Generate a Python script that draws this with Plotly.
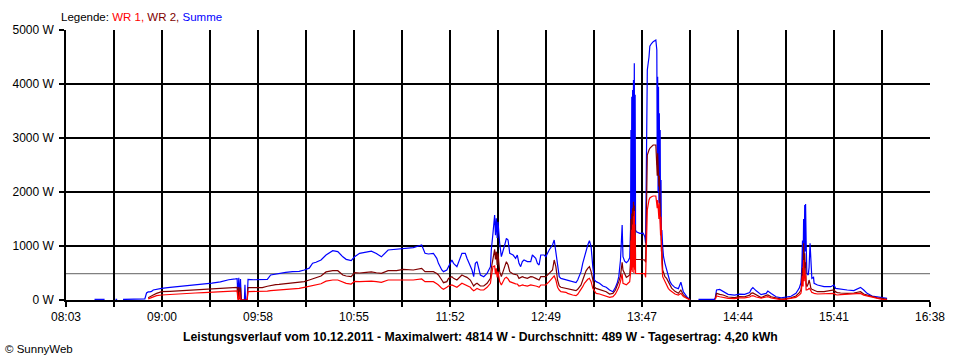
import plotly.graph_objects as go
import pandas as pd

DAY = "2011-12-10"

times = [
    "08:20", "08:26", "08:27", "08:32:30", "08:33:30", "08:34", "08:37", "08:45", "08:50", "08:51",
    "08:52", "08:53", "08:54", "08:55", "08:57", "09:00", "09:05", "09:10", "09:15", "09:20",
    "09:25", "09:30", "09:35", "09:40", "09:44", "09:45", "09:45:30", "09:46", "09:46:30", "09:47",
    "09:47:30", "09:49:20", "09:49:40", "09:50", "09:51", "09:51:30", "09:55", "10:00", "10:03", "10:05",
    "10:08", "10:10", "10:14", "10:18", "10:22", "10:25", "10:28", "10:30", "10:32", "10:35",
    "10:38", "10:42", "10:45", "10:48", "10:50", "10:53", "10:55", "10:58", "11:02", "11:05",
    "11:08", "11:11", "11:15", "11:20", "11:24", "11:30", "11:35", "11:37", "11:39", "11:42",
    "11:44", "11:45", "11:47", "11:48", "11:50", "11:51", "11:53", "11:54", "11:56", "11:59",
    "12:01", "12:02", "12:04", "12:05", "12:06", "12:07", "12:08", "12:10", "12:12", "12:14",
    "12:16", "12:16:30", "12:17:30", "12:18:30", "12:19", "12:19:30", "12:20", "12:20:30", "12:21:30", "12:22:30",
    "12:24:30", "12:25:30", "12:26:30", "12:27:30", "12:29:30", "12:31", "12:32", "12:33", "12:34", "12:35",
    "12:36", "12:38", "12:40", "12:41", "12:43", "12:44", "12:45", "12:46", "12:48", "12:49",
    "12:51", "12:53", "12:54", "12:55", "12:56", "12:57", "12:58", "13:01", "13:02", "13:05",
    "13:07", "13:08", "13:10", "13:11", "13:12", "13:13", "13:14", "13:15", "13:16", "13:17",
    "13:18", "13:19", "13:21", "13:23", "13:25", "13:27", "13:29", "13:30:30", "13:31:30", "13:32:30",
    "13:33:30", "13:34", "13:34:30", "13:35", "13:36", "13:37", "13:38", "13:39", "13:39:30", "13:39:45",
    "13:40", "13:40:15", "13:40:30", "13:40:45", "13:41", "13:41:15", "13:41:30", "13:41:45", "13:42", "13:42:15",
    "13:42:30", "13:43", "13:45", "13:47", "13:48", "13:48:30", "13:49", "13:49:30", "13:50:30", "13:51",
    "13:52", "13:53", "13:54:35", "13:55:10", "13:55:25", "13:55:40", "13:55:55", "13:56:10", "13:56:25", "13:56:40",
    "13:56:55", "13:57:10", "13:57:25", "13:57:40", "13:57:55", "13:58:10", "13:58:40", "13:59:10", "14:00", "14:01",
    "14:02", "14:03", "14:04", "14:06", "14:08", "14:09:30", "14:11", "14:13", "14:15", "14:16",
    "14:20", "14:29:30", "14:30", "14:30:45", "14:32:40", "14:34:40", "14:37:40", "14:41:30", "14:44:30", "14:47:30",
    "14:50:30", "14:51:25", "14:52:25", "14:54:25", "14:57:20", "15:00:20", "15:01:20", "15:03:20", "15:06:15", "15:09:15",
    "15:12:10", "15:15:10", "15:18:05", "15:20", "15:21", "15:21:20", "15:21:40", "15:22", "15:22:20", "15:22:40",
    "15:23", "15:23:20", "15:23:40", "15:23:50", "15:24:10", "15:24:35", "15:25:25", "15:25:55", "15:26:30", "15:27",
    "15:27:35", "15:28:35", "15:28:55", "15:30:55", "15:34:50", "15:38:50", "15:40:45", "15:41:45", "15:42:45", "15:44:45",
    "15:48:40", "15:52:35", "15:56:35", "15:58:30", "16:00:30", "16:03:30", "16:06:30", "16:09:25", "16:12:25",
]

summe = [
    12, 12, None, 12, 12, None, 10, 15, 20, 130,
    150, 150, 160, 185, 200, 216, 235, 250, 262, 275,
    290, 312, 335, 375, 390, 395, 60, 410, 30, 390,
    0, 0, 280, 0, 0, 383, 375, 372, 383, 463,
    480, 494, 512, 525, 530, 556, 590, 680, 698, 740,
    833, 914, 895, 800, 753, 728, 800, 864, 895, 905,
    860, 800, 926, 938, 957, 969, 1018, 864, 852, 864,
    772, 679, 556, 525, 556, 617, 741, 679, 617, 864,
    864, 772, 617, 556, 432, 679, 710, 463, 432, 494,
    617, 926, 1235, 1574, 1200, 1512, 1150, 1450, 1050, 802,
    1018, 1142, 1111, 864, 833, 772, 833, 679, 617, 710,
    741, 710, 710, 833, 772, 679, 648, 833, 833, 802,
    926, 1018, 1111, 864, 617, 432, 401, 370, 370, 340,
    321, 370, 525, 679, 803, 926, 1019, 1100, 988, 617,
    370, 340, 309, 259, 235, 185, 154, 235, 309, 432,
    741, 1050, 1389, 802, 720, 690, 720, 780, 1300, 3148,
    1500, 3765, 1400, 3889, 1600, 4074, 1350, 4383, 1500, 3800,
    1296, 1265, 1235, 1240, 1173, 1050, 2600, 4260, 4500, 4700,
    4750, 4784, 4814, 4630, 2500, 4136, 2000, 3951, 1800, 3457,
    1500, 3148, 1200, 2222, 1100, 1296, 988, 802, 679, 560,
    432, 340, 290, 230, 210, 330, 150, 62, 5, None,
    12, 12, 40, 185, 197, 154, 105, 90, 110, 105,
    140, 197, 230, 170, 100, 123, 165, 120, 60, 40,
    55, 70, 123, 216, 309, 420, 700, 1100, 600, 1500,
    800, 1759, 900, 1778, 1111, 494, 463, 600, 1049, 555,
    401, 420, 309, 278, 247, 247, 278, 216, 210, 210,
    185, 173, 234, 185, 123, 74, 62, 49, 31,
]

wr2 = [
    None, None, None, None, None, None, None, None, None, None,
    40, 62, 70, 93, 123, 154, 160, 170, 180, 185,
    195, 205, 215, 218, 228, 232, 30, 240, 20, 230,
    0, 0, 0, 0, 0, 228, 228, 230, 255, 270,
    285, 290, 300, 310, 325, 340, 370, 390, 413, 444,
    520, 543, 543, 463, 444, 432, 505, 500, 512, 520,
    505, 494, 543, 543, 568, 556, 586, 525, 525, 525,
    490, 463, 370, 321, 340, 400, 432, 401, 370, 463,
    432, 420, 370, 309, 259, 290, 309, 259, 259, 309,
    401, 586, 803, 938, 750, 895, 650, 864, 525, 432,
    617, 710, 648, 525, 482, 470, 463, 401, 410, 432,
    420, 401, 432, 430, 401, 390, 370, 432, 432, 432,
    494, 556, 741, 617, 370, 259, 235, 216, 216, 185,
    173, 198, 278, 370, 463, 540, 586, 617, 525, 340,
    235, 216, 198, 185, 154, 111, 123, 185, 247, 340,
    445, 600, 700, 556, 480, 420, 440, 463, 700, 1500,
    800, 1600, 750, 1700, 850, 1820, 760, 1750, 800, 1400,
    753, 755, 750, 745, 740, 700, 1700, 2685, 2778, 2810,
    2840, 2870, 2870, 2593, 2300, 2716, 2300, 2407, 2100, 2300,
    1800, 2099, 1400, 1296, 900, 988, 556, 494, 432, 400,
    330, 270, 220, 160, 125, 185, 93, 40, 5, None,
    None, None, 20, 123, 105, 93, 55, 45, 62, 60,
    90, 123, 130, 90, 45, 85, 93, 60, 35, 15,
    25, 40, 74, 130, 180, 250, 420, 600, 400, 1049,
    500, 864, 600, 700, 309, 247, 300, 370, 300, 216,
    200, 190, 185, 154, 154, 166, 185, 150, 136, 130,
    123, 130, 154, 111, 90, 62, 40, 31, 12,
]

wr1 = [
    None, None, None, None, None, None, None, None, None, None,
    20, 31, 50, 62, 80, 93, 105, 115, 123, 130,
    136, 142, 152, 162, 167, 167, 0, 0, 150, 0,
    0, 0, 0, 0, 0, 154, 154, 157, 165, 175,
    182, 185, 192, 200, 215, 235, 255, 262, 278, 300,
    350, 370, 370, 327, 308, 296, 345, 340, 352, 350,
    340, 327, 370, 370, 383, 370, 389, 340, 340, 340,
    300, 278, 216, 198, 235, 260, 278, 259, 235, 309,
    278, 265, 235, 198, 173, 190, 216, 185, 185, 235,
    309, 432, 617, 630, 480, 586, 420, 525, 340, 278,
    401, 420, 390, 340, 309, 300, 296, 259, 265, 278,
    270, 259, 278, 275, 259, 250, 235, 278, 278, 278,
    340, 401, 445, 370, 235, 185, 154, 142, 123, 93,
    80, 105, 185, 247, 309, 350, 383, 401, 340, 216,
    154, 123, 111, 93, 74, 49, 62, 111, 173, 235,
    340, 401, 482, 309, 290, 280, 310, 340, 500, 1100,
    550, 1300, 520, 1400, 600, 1550, 500, 1650, 560, 1200,
    494, 494, 494, 494, 490, 420, 1000, 1667, 1852, 1890,
    1913, 1926, 1926, 1790, 1700, 1852, 1600, 1667, 1500, 1790,
    1300, 1296, 1200, 1543, 800, 679, 432, 400, 340, 260,
    216, 180, 154, 110, 93, 123, 62, 25, 0, None,
    None, None, 10, 74, 60, 49, 30, 25, 40, 40,
    55, 74, 80, 55, 35, 55, 62, 40, 20, 5,
    15, 30, 49, 90, 120, 170, 300, 450, 250, 741,
    350, 555, 400, 450, 185, 185, 200, 216, 200, 154,
    140, 130, 123, 111, 111, 111, 123, 100, 93, 100,
    111, 115, 123, 90, 74, 49, 35, 12, 5,
]

average_w = 489
axis_start, axis_end = "08:03", "16:38"
x_tick_labels = ["08:03", "09:00", "09:58", "10:55", "11:52",
                 "12:49", "13:47", "14:44", "15:41", "16:38"]
y_tick_values = [0, 1000, 2000, 3000, 4000, 5000]
title_text = ("Leistungsverlauf vom 10.12.2011 - Maximalwert: 4814 W - "
              "Durchschnitt: 489 W - Tagesertrag: 4,20 kWh")

assert len(times) == len(summe) == len(wr1) == len(wr2)

x = [f"{DAY} {t}" for t in times]
start = pd.Timestamp(f"{DAY} {axis_start}")
end = pd.Timestamp(f"{DAY} {axis_end}")
n_grid = 2 * (len(x_tick_labels) - 1) + 1
tickvals = list(pd.date_range(start, end, periods=n_grid))
ticktext = [x_tick_labels[i // 2] if i % 2 == 0 else "" for i in range(n_grid)]

FONT = "Liberation Sans, Arial, sans-serif"

fig = go.Figure()
fig.add_trace(go.Scatter(x=x, y=summe, name="Summe", mode="lines",
                         line=dict(color="#0000ff", width=1.2)))
fig.add_trace(go.Scatter(x=x, y=wr2, name="WR 2", mode="lines",
                         line=dict(color="#800000", width=1.2)))
fig.add_trace(go.Scatter(x=x, y=wr1, name="WR 1", mode="lines",
                         line=dict(color="#ff0000", width=1.2)))

fig.add_shape(type="line", xref="paper", x0=0, x1=1, yref="y",
              y0=average_w, y1=average_w, layer="between",
              line=dict(color="#808080", width=1.2))

fig.update_layout(
    width=960, height=360,
    margin=dict(l=60, r=30, t=30, b=60),
    paper_bgcolor="white", plot_bgcolor="white",
    showlegend=False,
    font=dict(family=FONT, size=12, color="black"),
    xaxis=dict(
        type="date", range=[start, end],
        tickmode="array", tickvals=tickvals, ticktext=ticktext,
        showgrid=True, gridcolor="black", gridwidth=1.5,
        showline=True, linecolor="black", linewidth=1.5,
        ticks="outside", ticklen=5, tickcolor="black", tickwidth=1.5,
        zeroline=False, fixedrange=True,
        tickfont=dict(family=FONT, size=12, color="black"),
    ),
    yaxis=dict(
        range=[0, 5000],
        tickmode="array", tickvals=y_tick_values,
        ticktext=[f"{v} W" for v in y_tick_values],
        showgrid=True, gridcolor="black", gridwidth=1.5,
        showline=True, linecolor="black", linewidth=1.5,
        ticks="outside", ticklen=5, tickcolor="black", tickwidth=1.5,
        ticklabelstandoff=3,
        zeroline=False, fixedrange=True,
        tickfont=dict(family=FONT, size=12, color="black"),
    ),
    annotations=[
        dict(xref="paper", yref="paper", x=-7 / 870, y=1 + 13 / 270,
             xanchor="left", yanchor="middle", showarrow=False,
             text=("Legende: <span style='color:#ff0000'>WR 1,</span> "
                   "<span style='color:#800000'>WR 2,</span> "
                   "<span style='color:#0000ff'>Summe</span>"),
             font=dict(family=FONT, size=11.5, color="black")),
        dict(xref="paper", yref="paper", x=(477 - 60) / 870, y=-37 / 270,
             xanchor="center", yanchor="middle", showarrow=False,
             text=f"<b>{title_text}</b>",
             font=dict(family=FONT, size=12.25, color="black")),
        dict(xref="paper", yref="paper", x=-63 / 870, y=-49 / 270,
             xanchor="left", yanchor="middle", showarrow=False,
             text="© SunnyWeb",
             font=dict(family=FONT, size=11.5, color="black")),
    ],
)

fig.write_html("out.html",
               config={"displayModeBar": False},
               post_script="document.body.style.margin='0';")
